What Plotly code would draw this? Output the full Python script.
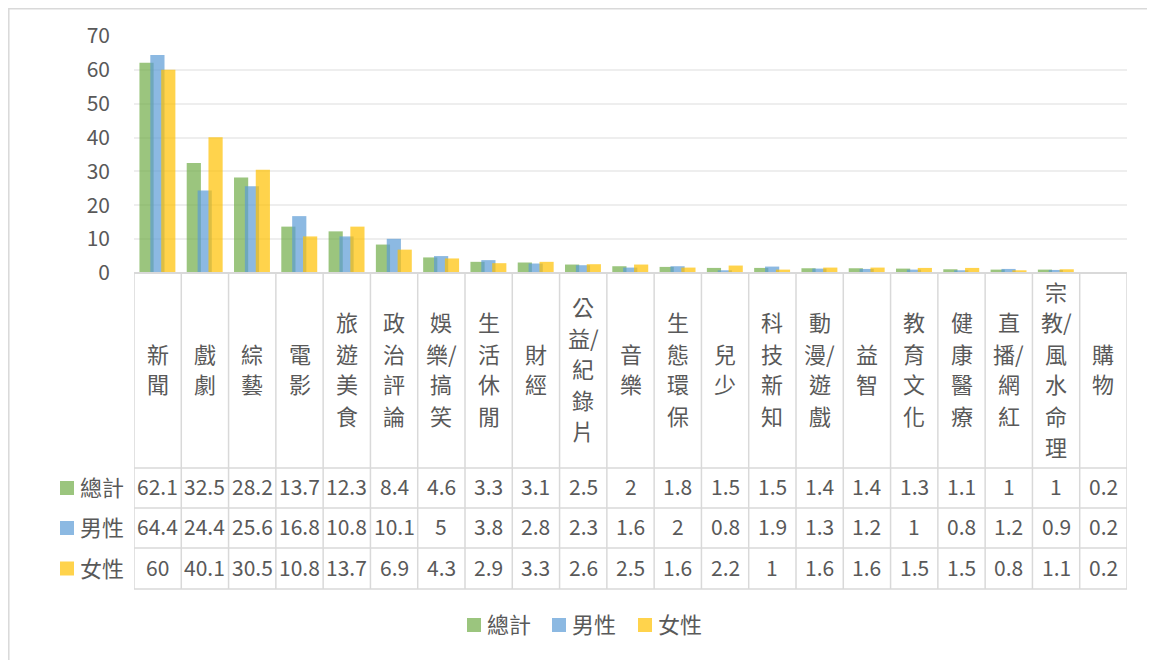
import plotly.graph_objects as go

# ---------------- data ----------------
categories = ["新聞", "戲劇", "綜藝", "電影", "旅遊美食", "政治評論", "娛樂/搞笑", "生活休閒",
              "財經", "公益/紀錄片", "音樂", "生態環保", "兒少", "科技新知", "動漫/遊戲",
              "益智", "教育文化", "健康醫療", "直播/網紅", "宗教/風水命理", "購物"]
series_names = ["總計", "男性", "女性"]
total = [62.1, 32.5, 28.2, 13.7, 12.3, 8.4, 4.6, 3.3, 3.1, 2.5, 2, 1.8, 1.5, 1.5, 1.4, 1.4, 1.3, 1.1, 1, 1, 0.2]
male = [64.4, 24.4, 25.6, 16.8, 10.8, 10.1, 5, 3.8, 2.8, 2.3, 1.6, 2, 0.8, 1.9, 1.3, 1.2, 1, 0.8, 1.2, 0.9, 0.2]
female = [60, 40.1, 30.5, 10.8, 13.7, 6.9, 4.3, 2.9, 3.3, 2.6, 2.5, 1.6, 2.2, 1, 1.6, 1.6, 1.5, 1.5, 0.8, 1.1, 0.2]
y_ticks = [0, 10, 20, 30, 40, 50, 60, 70]

# ---------------- style / layout constants (page pixels) ----------------
PAGE_W, PAGE_H = 1155, 660
OX, OY = 8, 8                   # default body margin of the html page
W, H = PAGE_W - OX, PAGE_H - OY
PX_L, PX_R = 134, 1127          # plot area / table category columns
PY_0, PY_TOP = 273, 36          # y pixel of value 0 and value 70
TBL_CAT_BOT = 468
ROW_EDGES = [468, 508, 548, 589]
HDR_L = 52
TEXT_DY = -2                    # small vertical correction for text centring
GRID = "#D9D9D9"
TXT = "#595959"
CJK = "Noto Sans CJK TC"
colors = ["rgba(112,173,71,0.7)", "rgba(91,155,213,0.7)", "rgba(255,192,0,0.7)"]
offsets = [-0.385, -0.155, 0.075]
bar_w = 0.30

n = len(categories)
CW = (PX_R - PX_L) / n


def py(p):
    return 1 - (p - OY) / H


def px(p):
    return (p - OX) / W


def xdata(p):
    return (p - PX_L) / CW - 0.5


fig = go.Figure()
xs = list(range(n))
for name, vals, col, off in zip(series_names, [total, male, female], colors, offsets):
    fig.add_trace(go.Bar(x=xs, y=vals, name=name, marker=dict(color=col, line=dict(width=0)),
                         width=bar_w, offset=off, showlegend=False, hoverinfo="y+name"))

shapes = []
# outer chart border (top + left)
shapes.append(dict(type="rect", xref="paper", yref="paper", x0=px(OX + 0.8), x1=px(PAGE_W + 20),
                   y0=py(PAGE_H + 20), y1=py(OY + 0.8), line=dict(color=GRID, width=1.5)))
# table horizontal lines
shapes.append(dict(type="line", xref="x", yref="paper", x0=-0.5, x1=n - 0.5,
                   y0=py(PY_0), y1=py(PY_0), line=dict(color=GRID, width=2)))
for e in ROW_EDGES:
    shapes.append(dict(type="line", xref="x", yref="paper", x0=xdata(HDR_L), x1=n - 0.5,
                       y0=py(e), y1=py(e), line=dict(color=GRID, width=1.5)))
# table vertical lines
for k in range(n + 1):
    shapes.append(dict(type="line", xref="x", yref="paper", x0=k - 0.5, x1=k - 0.5,
                       y0=py(PY_0), y1=py(ROW_EDGES[-1]), line=dict(color=GRID, width=1.5)))
shapes.append(dict(type="line", xref="x", yref="paper", x0=xdata(HDR_L), x1=xdata(HDR_L),
                   y0=py(ROW_EDGES[0]), y1=py(ROW_EDGES[-1]), line=dict(color=GRID, width=1.5)))

annotations = []


def wrap(label):
    lines = []
    for ch in label:
        if ch == "/" and lines:
            lines[-1] += ch
        else:
            lines.append(ch)
    return lines


# category labels (stacked characters)
cat_center = (PY_0 + TBL_CAT_BOT) / 2 - 0.5
LINE_H = 31
for i, cat in enumerate(categories):
    lines = wrap(cat)
    m = len(lines)
    for k, ln in enumerate(lines):
        yc = cat_center + (k - (m - 1) / 2) * LINE_H + TEXT_DY
        annotations.append(dict(x=i, y=py(yc), xref="x", yref="paper", text=ln, showarrow=False,
                                xanchor="center", yanchor="middle",
                                font=dict(family=CJK, size=22, color=TXT)))

# table rows
for r, (name, vals, col) in enumerate(zip(series_names, [total, male, female], colors)):
    yc = (ROW_EDGES[r] + ROW_EDGES[r + 1]) / 2
    for i, v in enumerate(vals):
        annotations.append(dict(x=i, y=py(yc + TEXT_DY), xref="x", yref="paper", text=f"{v:g}",
                                showarrow=False, xanchor="center", yanchor="middle",
                                font=dict(family=CJK, size=21, color=TXT)))
    shapes.append(dict(type="rect", xref="paper", yref="paper", x0=px(60), x1=px(74),
                       y0=py(yc + 7), y1=py(yc - 7), fillcolor=col, line=dict(width=0)))
    annotations.append(dict(x=px(78), y=py(yc + TEXT_DY), xref="paper", yref="paper", text=name,
                            showarrow=False, xanchor="left", yanchor="middle",
                            font=dict(family=CJK, size=22, color=TXT)))

# bottom legend
LEG_Y = 625
leg_x = [467, 552, 638]
for name, col, lx in zip(series_names, colors, leg_x):
    shapes.append(dict(type="rect", xref="paper", yref="paper", x0=px(lx), x1=px(lx + 14),
                       y0=py(LEG_Y + 7), y1=py(LEG_Y - 7), fillcolor=col, line=dict(width=0)))
    annotations.append(dict(x=px(lx + 18), y=py(LEG_Y + TEXT_DY), xref="paper", yref="paper",
                            text=name, showarrow=False, xanchor="left", yanchor="middle",
                            font=dict(family=CJK, size=22, color=TXT)))

fig.update_layout(
    width=W, height=H,
    autosize=False,
    margin=dict(l=0, r=0, t=0, b=0, pad=0, autoexpand=False),
    paper_bgcolor="white", plot_bgcolor="white",
    barmode="overlay",
    showlegend=False,
    xaxis=dict(domain=[px(PX_L), px(PX_R)], range=[-0.5, n - 0.5], showticklabels=False,
               showgrid=False, zeroline=False, showline=False, fixedrange=True, automargin=False),
    yaxis=dict(domain=[py(PY_0), py(PY_TOP)], range=[0, 70], tickvals=y_ticks,
               showgrid=True, gridcolor="#EEEEEE", gridwidth=1.5, zeroline=False,
               showline=False, ticks="", ticklabelstandoff=23, automargin=False,
               tickfont=dict(family=CJK, size=21, color=TXT), fixedrange=True),
    shapes=shapes,
    annotations=annotations,
)

fig.write_html("out.html")
